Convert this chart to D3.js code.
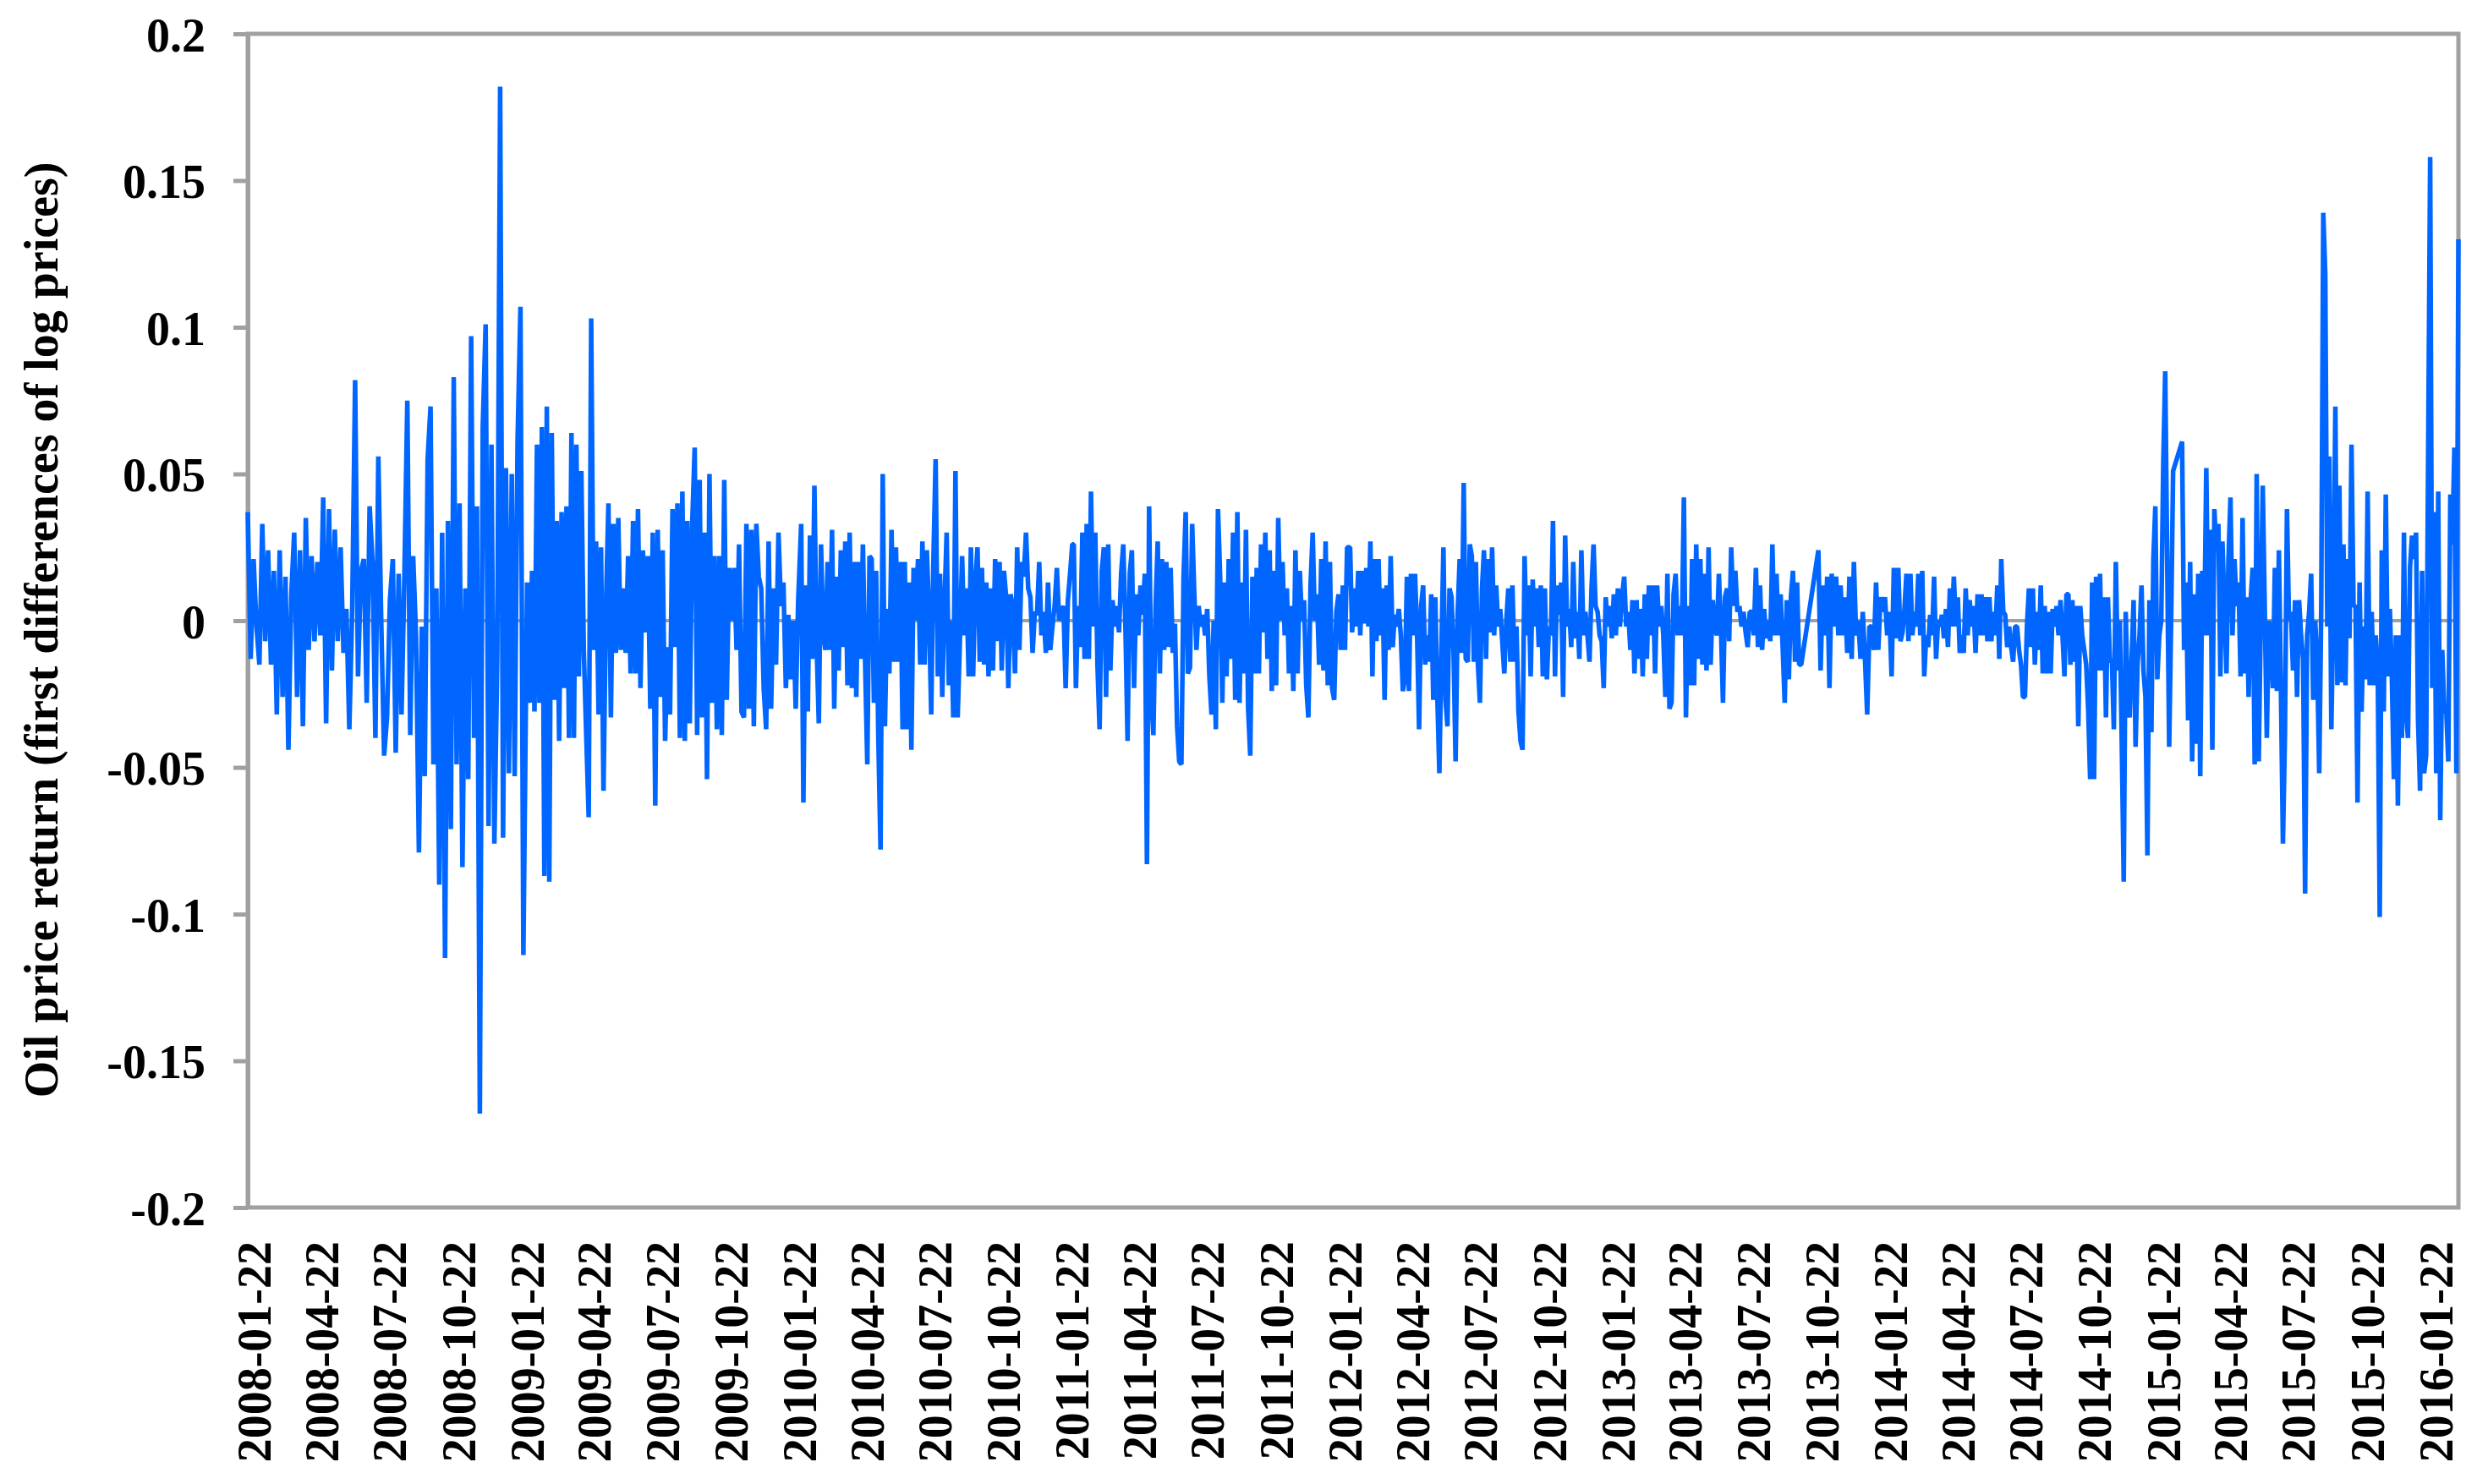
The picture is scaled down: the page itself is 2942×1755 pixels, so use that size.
<!DOCTYPE html>
<html>
<head>
<meta charset="utf-8">
<script src="https://cdn.jsdelivr.net/npm/d3@7"></script>
<style>
  html, body { margin: 0; padding: 0; background: #ffffff; }
  svg { display: block; }
</style>
</head>
<body>
<svg id="chart" width="2942" height="1755"></svg>
<script>
// ---------------- DATA ----------------
// Daily oil price returns, read as successive peaks/troughs, grouped in date spans.
const seg2008 = [0.037, -0.013, 0.021, -0.002, -0.015, 0.033, -0.007, 0.024, -0.015, 0.017, -0.032, 0.024, -0.026, 0.015, -0.044, 0.009, 0.030, -0.026, 0.024, -0.036, 0.035, -0.010, 0.022, -0.007, 0.020, -0.005, 0.042, -0.035, 0.038, -0.017, 0.031, -0.007, 0.025, -0.011, 0.004, -0.037, 0.004, 0.082, -0.019, 0.017, 0.021, -0.028, 0.039, 0.020, -0.040, 0.056, 0.000, -0.046, -0.033, 0.007, 0.021, -0.045, 0.016, -0.032, 0.016, 0.075, -0.039, 0.022, -0.005, -0.079, -0.002, -0.053, 0.055, 0.073, -0.049, 0.011, -0.090, 0.030, -0.115, 0.034, -0.071, 0.083, -0.049, 0.040, -0.084, 0.011, -0.054, 0.097, -0.040, 0.039, -0.168, 0.066, 0.101, -0.070, 0.060, -0.076, -0.013, 0.182, -0.074, 0.052, -0.052, 0.050, -0.053, 0.061, 0.107, -0.114];
const seg2009 = [0.013, -0.028, 0.017, -0.031, 0.060, -0.028, 0.066, -0.087, 0.073, -0.089, 0.064, -0.027, 0.034, -0.041, 0.037, -0.023, 0.039, -0.040, 0.064, -0.040, 0.060, -0.019, 0.051, -0.010, -0.039, -0.067, 0.103, -0.010, 0.027, -0.032, 0.025, -0.058, 0.005, 0.040, -0.033, 0.033, -0.011, 0.035, -0.010, 0.011, -0.011, 0.022, -0.018, 0.034, -0.018, 0.038, -0.023, 0.024, -0.004, 0.022, -0.030, 0.030, -0.063, 0.031, -0.026, 0.024, -0.041, -0.009, -0.032, 0.038, -0.009, 0.040, -0.040, 0.044, -0.041, 0.034, -0.035, 0.033, 0.059, -0.039, 0.048, -0.033, 0.030, -0.054, 0.050, -0.028, 0.022, -0.037, 0.022, -0.039, 0.048, -0.027, 0.018, 0.000, 0.018, -0.010, 0.026, -0.031, -0.033, 0.033, -0.030, 0.031, -0.036, 0.033, 0.015, 0.011, -0.023, -0.037, 0.027, -0.030, 0.011, -0.015, 0.030, 0.005, 0.013, -0.023, 0.002, -0.020, 0.000, -0.030, 0.007];
const seg2010 = [0.033, -0.062, 0.012, -0.031, 0.029, -0.013, 0.046, -0.008, -0.035, 0.026, -0.005, -0.010, 0.020, -0.010, 0.031, -0.030, 0.015, -0.017, 0.024, -0.009, 0.027, -0.022, 0.030, -0.023, 0.020, -0.026, 0.020, -0.013, 0.026, -0.014, -0.049, 0.022, 0.021, -0.028, 0.017, -0.040, -0.078, 0.050, -0.036, 0.004, -0.018, 0.031, -0.014, 0.025, -0.014, 0.020, -0.037, 0.020, -0.037, 0.013, -0.044, 0.018, 0.000, 0.021, -0.015, 0.027, -0.015, 0.024, 0.003, -0.032, 0.021, 0.055, -0.019, 0.016, -0.026, 0.005, 0.030, -0.022, 0.000, -0.033, 0.051, -0.033, -0.007, 0.022, -0.005, 0.011, -0.019, 0.025, -0.019, 0.013, 0.025, -0.014, 0.018, -0.015, 0.013, -0.019, 0.011, -0.017, 0.021, -0.007, 0.020, -0.017, 0.017, 0.008, -0.023, 0.009, 0.005, -0.018, 0.025, -0.010, 0.020, 0.015, 0.030, 0.011, 0.008, -0.011, 0.003, 0.002, 0.020, -0.005, 0.003, -0.011, 0.013, -0.010, -0.002, 0.005, 0.018, 0.000, 0.003, 0.005, -0.023, 0.007, 0.016, 0.026];
const seg2011 = [0.026, -0.023, 0.005, -0.009, 0.030, -0.013, 0.033, -0.013, 0.044, -0.002, 0.030, -0.015, -0.037, 0.017, 0.025, -0.026, 0.026, -0.017, 0.007, -0.002, 0.005, -0.004, 0.016, 0.026, -0.002, -0.041, 0.016, 0.024, -0.023, 0.009, -0.005, 0.012, 0.002, 0.016, -0.083, 0.039, -0.026, -0.039, 0.005, 0.027, -0.018, 0.021, -0.010, 0.020, -0.009, 0.018, -0.011, -0.001, -0.036, -0.048, -0.049, 0.015, 0.037, -0.018, -0.016, 0.033, 0.009, -0.010, 0.005, -0.002, 0.002, -0.005, 0.004, -0.019, -0.032, 0.000, -0.037, 0.038, 0.015, -0.028, 0.013, -0.019, 0.021, -0.013, 0.030, -0.027, 0.037, -0.028, 0.013, -0.018, 0.031, -0.030, -0.046, 0.015, -0.018, 0.018, -0.018, 0.026, -0.004, 0.030, -0.013, 0.024, -0.024, 0.017, -0.022, 0.035, 0.000, 0.020, -0.005, 0.011, -0.018, 0.005, -0.024, 0.024, -0.018, 0.017, 0.000, 0.007, -0.022, -0.033, 0.012, 0.030, 0.000, 0.009, -0.015, 0.021, -0.017, 0.027, -0.022, 0.020, -0.023, -0.027, 0.003, 0.009, -0.010, 0.012, -0.010, 0.025];
const seg2012 = [0.025, -0.004, 0.011, -0.002, 0.017, -0.005, 0.017, -0.001, 0.018, -0.002, 0.027, -0.019, 0.021, -0.007, 0.021, -0.005, 0.011, -0.027, 0.012, -0.010, 0.022, -0.009, 0.002, -0.002, 0.004, -0.005, -0.024, -0.020, 0.015, -0.024, 0.016, -0.005, 0.016, -0.004, -0.037, 0.005, 0.012, -0.015, -0.005, -0.014, 0.009, -0.027, 0.008, -0.026, -0.052, -0.010, 0.025, -0.027, -0.036, 0.011, 0.008, -0.011, -0.048, 0.002, 0.021, -0.011, 0.047, -0.013, -0.014, 0.026, 0.022, -0.014, 0.020, -0.015, -0.028, 0.011, 0.024, -0.013, 0.021, -0.004, 0.025, -0.005, 0.012, -0.002, 0.004, -0.007, -0.018, 0.000, 0.011, -0.014, 0.012, -0.014, -0.002, -0.031, -0.041, -0.044, 0.022, -0.005, 0.012, -0.019, 0.014, -0.002, 0.011, -0.009, 0.012, -0.019, 0.011, -0.020, -0.002, -0.005, 0.034, -0.019, 0.012, 0.002, 0.013, -0.026, 0.029, -0.002, 0.004, -0.009, 0.020, -0.006, 0.003, -0.013, 0.024, -0.005, 0.003, -0.005, -0.014, 0.011, 0.026, 0.005, 0.003, -0.005, -0.007, -0.023, 0.008, -0.002, 0.005, -0.006, 0.009, -0.005, 0.011, -0.002, 0.008];
const seg2013a = [0.015, -0.002, 0.003, -0.010, 0.007, -0.018, 0.007, -0.013, 0.004, -0.019, 0.009, -0.013, 0.012, -0.005, 0.012, -0.018, 0.012, -0.002, 0.005, -0.005, -0.026, 0.016, -0.030, -0.028, 0.009, 0.016, -0.005, 0.005, -0.005, 0.042, -0.033, 0.005, -0.022, 0.021, -0.022, 0.026, -0.013, 0.021, -0.015, 0.016, -0.017, 0.025, -0.015, 0.007, -0.002, -0.005, 0.016, -0.002, -0.028, 0.008, 0.011, -0.007, 0.025, 0.005, 0.017, 0.003, 0.005, -0.002, 0.003, -0.004, -0.009, 0.003, 0.003, -0.005, 0.018, -0.009, 0.012, -0.010, 0.004, -0.006, 0.000, -0.007, 0.026, -0.005, 0.016, -0.005, 0.009, -0.009, -0.028, 0.007, -0.020, 0.008, 0.017, -0.014, 0.013, -0.015, -0.015];
const seg2013b = [0.024, -0.017, 0.012, -0.005, 0.015, -0.023, 0.016, -0.002, 0.015, -0.005, 0.012, -0.005, 0.008, -0.011, 0.015, -0.013, 0.020, -0.005, 0.000, -0.013, 0.003, -0.013, -0.032, -0.002, -0.002, -0.010, 0.013, -0.010, 0.008, 0.003, 0.008, -0.005, 0.003, -0.019, 0.018, -0.006, 0.018];
const seg2014 = [-0.007, -0.004, 0.004, 0.016, -0.007, 0.016, -0.005, 0.003, -0.002, 0.016, -0.005, 0.017, -0.019, -0.005, -0.009, 0.002, -0.005, 0.015, -0.013, 0.000, -0.002, 0.002, -0.006, 0.004, -0.009, 0.011, -0.002, 0.015, -0.002, 0.008, -0.011, -0.005, -0.011, 0.011, -0.005, 0.007, -0.002, 0.005, -0.011, 0.009, -0.005, 0.009, -0.005, 0.008, -0.007, 0.008, -0.007, 0.003, -0.005, 0.012, -0.013, 0.021, 0.003, 0.002, -0.009, -0.002, -0.009, -0.014, -0.002, -0.002, -0.010, -0.015, -0.026, -0.026, -0.002, 0.011, -0.009, 0.011, -0.015, 0.003, -0.010, 0.012, -0.018, 0.005, -0.018, 0.003, -0.018, 0.004, -0.002, 0.005, -0.005, 0.007, -0.005, -0.019, 0.009, 0.009, -0.015, 0.007, -0.014, 0.005, -0.036, 0.005, -0.005, -0.010, -0.015, -0.030, -0.054, 0.013, -0.054, 0.015, -0.017, 0.016, -0.017, 0.008, -0.033, 0.008, -0.014, -0.013, -0.037, 0.020, -0.017, 0.000, -0.041, -0.089, 0.003, -0.026, -0.033, -0.013, 0.007, -0.043, -0.015, -0.005, 0.012, -0.017, -0.026, -0.080, 0.007, -0.038, 0.021, 0.039, -0.020, -0.005, 0.000, 0.053, 0.085, 0.021, -0.043, 0.000, 0.051];
const seg2015 = [0.061, -0.010, 0.013, -0.034, 0.020, -0.048, 0.009, -0.042, 0.016, -0.053, 0.017, -0.005, 0.052, -0.005, 0.031, -0.044, 0.038, 0.024, 0.033, -0.019, 0.027, 0.005, -0.018, 0.021, 0.042, -0.005, 0.021, 0.005, 0.013, -0.019, 0.035, -0.018, 0.008, -0.026, 0.007, 0.018, -0.049, 0.050, -0.048, 0.000, 0.046, 0.004, -0.040, 0.000, -0.005, -0.023, 0.018, -0.024, 0.024, -0.023, -0.076, -0.039, 0.038, 0.000, 0.003, -0.017, 0.007, -0.026, 0.007, -0.005, -0.013, -0.093, -0.005, 0.003, 0.016, -0.027, 0.000, -0.014, -0.052, 0.005, 0.139, 0.118, -0.002, 0.056, -0.037, 0.003, 0.073, -0.022, 0.046, -0.021, 0.026, -0.022, 0.021, -0.006, 0.060, 0.005, 0.005, -0.062, 0.013, -0.031, -0.002, -0.020, 0.044, -0.022, 0.003, -0.022, -0.005, -0.015, -0.101, 0.024, -0.031, 0.043, -0.019, 0.004, -0.019, -0.054, -0.005, -0.063, -0.005, -0.040, 0.030, -0.031, -0.040, 0.018, 0.029, 0.021, 0.030, -0.034, -0.058, 0.017, -0.052, -0.046, 0.056, 0.158, -0.023, 0.037, -0.052, 0.044, -0.068, -0.010, -0.031, -0.031, -0.048, 0.043, 0.026, 0.059, -0.052, 0.130];

// First and last trading date of each span above
const spanStarts = ["2008-01-22", "2009-01-30", "2010-02-01", "2011-02-01", "2012-02-06", "2013-02-07", "2013-10-25", "2014-02-12", "2015-02-24"];
const spanEnds   = ["2009-01-25", "2010-01-28", "2011-01-30", "2012-02-02", "2013-02-04", "2013-10-02", "2014-02-09", "2015-02-12", "2016-02-29"];

const xDomain = ["2008-01-22", "2016-02-29"];
const xTickLabels = ["2008-01-22","2008-04-22","2008-07-22","2008-10-22","2009-01-22","2009-04-22","2009-07-22","2009-10-22","2010-01-22","2010-04-22","2010-07-22","2010-10-22","2011-01-22","2011-04-22","2011-07-22","2011-10-22","2012-01-22","2012-04-22","2012-07-22","2012-10-22","2013-01-22","2013-04-22","2013-07-22","2013-10-22","2014-01-22","2014-04-22","2014-07-22","2014-10-22","2015-01-22","2015-04-22","2015-07-22","2015-10-22","2016-01-22"];
const yTickValues = [-0.2, -0.15, -0.1, -0.05, 0, 0.05, 0.1, 0.15, 0.2];
const yTickLabels = ["-0.2", "-0.15", "-0.1", "-0.05", "0", "0.05", "0.1", "0.15", "0.2"];
const yTitle = "Oil price return (first differences of log prices)";

// ---------------- BUILD ----------------
const parse = d3.timeParse("%Y-%m-%d");
const spans = [seg2008, seg2009, seg2010, seg2011, seg2012, seg2013a, seg2013b, seg2014, seg2015];
const data = [];
spans.forEach((vals, k) => {
  const t0 = +parse(spanStarts[k]), t1 = +parse(spanEnds[k]);
  const n = vals.length;
  vals.forEach((v, i) => data.push({ date: new Date(t0 + (t1 - t0) * i / (n - 1)), value: v }));
});

const W = 2942, H = 1755;
const L = 293, R = 2907, T = 40, B = 1428;
const FONT = "'Liberation Serif', 'Times New Roman', Times, serif";
const GREY = "#a0a0a0";

const svg = d3.select("#chart");
svg.append("rect").attr("width", W).attr("height", H).attr("fill", "#ffffff");

const x = d3.scaleTime().domain(xDomain.map(parse)).range([L, R]);
const y = d3.scaleLinear().domain([-0.2, 0.2]).range([B, T]);

// Plot frame
svg.append("rect")
  .attr("x", L).attr("y", T).attr("width", R - L).attr("height", B - T)
  .attr("fill", "none").attr("stroke", GREY).attr("stroke-width", 5);

// Zero line
svg.append("line")
  .attr("x1", L).attr("x2", R).attr("y1", y(0)).attr("y2", y(0))
  .attr("stroke", GREY).attr("stroke-width", 4);

// Y axis
const yAxis = svg.append("g")
  .attr("transform", `translate(${L},0)`)
  .call(d3.axisLeft(y).tickValues(yTickValues)
    .tickFormat((d, i) => yTickLabels[i])
    .tickSize(17).tickSizeOuter(0).tickPadding(33));
yAxis.select(".domain").attr("stroke", GREY).attr("stroke-width", 5);
yAxis.selectAll(".tick line").attr("stroke", GREY).attr("stroke-width", 5);
yAxis.selectAll(".tick text")
  .attr("fill", "#000").attr("font-family", FONT).attr("font-weight", "bold")
  .attr("font-size", 56).attr("dy", "0.36em");

// X axis (labels at bottom of plot)
const xAxis = svg.append("g")
  .attr("transform", `translate(0,${B})`)
  .call(d3.axisBottom(x).tickValues(xTickLabels.map(parse))
    .tickFormat((d, i) => xTickLabels[i]).tickSize(0));
xAxis.select(".domain").remove();
xAxis.selectAll(".tick text")
  .attr("fill", "#000").attr("font-family", FONT).attr("font-weight", "bold")
  .attr("font-size", 56)
  .attr("text-anchor", "end")
  .attr("transform", "rotate(-90)")
  .attr("x", -40).attr("y", 7).attr("dy", "0.34em");

// Data line
const line = d3.line().x(d => x(d.date)).y(d => y(d.value));
svg.append("path")
  .datum(data)
  .attr("d", line)
  .attr("fill", "none")
  .attr("stroke", "#0066ff")
  .attr("stroke-width", 5.5)
  .attr("stroke-linejoin", "bevel");

// Y axis title
svg.append("text")
  .attr("transform", `translate(68,745) rotate(-90)`)
  .attr("text-anchor", "middle")
  .attr("font-family", FONT).attr("font-weight", "bold").attr("font-size", 56)
  .attr("fill", "#000")
  .text(yTitle);
</script>
</body>
</html>
